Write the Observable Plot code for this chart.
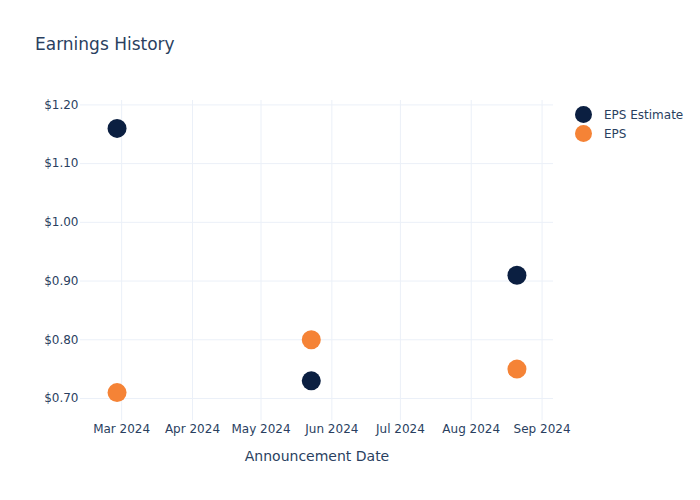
<!DOCTYPE html>
<html>
<head>
<meta charset="utf-8">
<script src="https://cdn.jsdelivr.net/npm/d3@7"></script>
<script src="https://cdn.jsdelivr.net/npm/@observablehq/plot@0.6"></script>
<style>
  html, body { margin: 0; padding: 0; background: #fff; }
  #wrap { position: relative; width: 700px; height: 500px; font-family: "DejaVu Sans", sans-serif; color: #2a3f5f; }
  #title { position: absolute; left: 35px; top: 33px; font-size: 17px; line-height: 22px; color: #2a3f5f; }
  #legend { position: absolute; left: 575px; top: 105px; font-size: 12px; }
  .item { display: flex; align-items: center; height: 19px; }
  .sw { width: 17px; height: 17px; border-radius: 50%; margin-right: 12px; }
</style>
</head>
<body>
<div id="wrap">
  <div id="chart"></div>
  <div id="title">Earnings History</div>
  <div id="legend"></div>
</div>
<script>
const dates = ["2024-02-28", "2024-05-23", "2024-08-21"];
const epsEstimate = [1.16, 0.73, 0.91];
const eps = [0.71, 0.80, 0.75];
const seriesNames = ["EPS Estimate", "EPS"];
const seriesColors = ["#0b1f41", "#f58336"];
const yTicks = [0.70, 0.80, 0.90, 1.00, 1.10, 1.20];
const xDomain = ["2024-02-12", "2024-09-06"];
const yDomain = [0.6625, 1.2075];

const rows = [];
dates.forEach((d, i) => {
  rows.push({date: new Date(d), value: epsEstimate[i], series: seriesNames[0]});
  rows.push({date: new Date(d), value: eps[i], series: seriesNames[1]});
});
const xTicks = d3.utcMonth.range(new Date("2024-03-01"), new Date("2024-09-02"));

const chart = Plot.plot({
  width: 700,
  height: 500,
  marginLeft: 80,
  marginRight: 147,
  marginTop: 100,
  marginBottom: 80,
  style: {fontFamily: "DejaVu Sans, sans-serif", fontSize: "12px", color: "#2a3f5f", background: "#fff"},
  x: {type: "utc", domain: xDomain.map(d => new Date(d))},
  y: {domain: yDomain},
  color: {domain: seriesNames, range: seriesColors},
  marks: [
    Plot.gridX(xTicks, {stroke: "#ebf0f8", strokeOpacity: 1}),
    Plot.gridY(yTicks, {stroke: "#ebf0f8", strokeOpacity: 1}),
    Plot.axisX(xTicks, {tickSize: 0, tickPadding: 4, tickFormat: d3.utcFormat("%b %Y"), fill: "#2a3f5f", fontSize: 12, label: null}),
    Plot.axisY(yTicks, {tickSize: 0, tickPadding: 2, tickFormat: d3.format("$.2f"), fill: "#2a3f5f", fontSize: 12, label: null}),
    Plot.text(["Announcement Date"], {frameAnchor: "bottom", dy: 40, fontSize: 14, fill: "#2a3f5f"}),
    Plot.dot(rows, {x: "date", y: "value", fill: "series", r: 9.5, stroke: "none"})
  ]
});
document.getElementById("chart").appendChild(chart);

const legend = document.getElementById("legend");
seriesNames.forEach((n, i) => {
  const it = document.createElement("div");
  it.className = "item";
  const sw = document.createElement("div");
  sw.className = "sw";
  sw.style.background = seriesColors[i];
  const t = document.createElement("span");
  t.textContent = n;
  it.appendChild(sw); it.appendChild(t);
  legend.appendChild(it);
});
</script>
</body>
</html>
